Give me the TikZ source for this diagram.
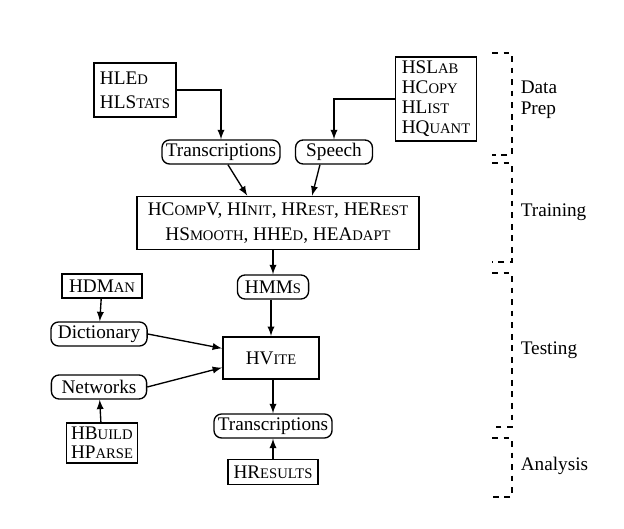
\documentclass[tikz,border=0pt]{standalone}
\usepackage{fontspec}
\setmainfont{Liberation Serif}
\usetikzlibrary{arrows}
% fake small caps, as in the HTK book
\newcommand\htk[2]{#1{\fontsize{7.6}{9}\selectfont #2}}

\begin{document}
\begin{tikzpicture}[x=0.52pt, y=-0.52pt, >=latex,
    tool/.style={rectangle, draw, line width=0.9pt, inner sep=2pt},
    file/.style={rectangle, rounded corners=4pt, draw, line width=0.7pt,
      inner xsep=2pt, inner ysep=0pt, minimum height=12.5pt},
    flow/.style={->, line width=0.7pt},
    phase/.style={dashed, line width=0.8pt},
    lines/.style={align=left, font=\fontsize{10}{#1}\selectfont}]

  \useasboundingbox (0,0) rectangle (624,529);

  % data preparation
  \node[tool,lines=12.5,minimum width=43pt,minimum height=28pt] (hled) at (135,90)
    {\htk{HLE}{D}\\\htk{HLS}{TATS}};
  \node[tool,lines=10.4,minimum width=42pt,minimum height=43pt] (hslab) at (436,99)
    {\htk{HSL}{AB}\\\htk{HC}{OPY}\\\htk{HL}{IST}\\\htk{HQ}{UANT}};
  \node[file] (trans) at (221,152) {Transcriptions};
  \node[file,minimum width=40pt] (speech) at (334,152) {Speech};
  \draw[flow] (hled.east) -| (trans.north);
  \draw[flow] (hslab.west) -| (speech.north);

  % training
  \node[tool,align=center,font=\fontsize{10}{13}\selectfont,minimum width=147pt,minimum height=27.5pt]
    (train) at (278,223)
    {\htk{HC}{OMP}V, \htk{HI}{NIT}, \htk{HR}{EST}, \htk{HER}{EST}\\
     \htk{HS}{MOOTH}, \htk{HHE}{D}, \htk{HEA}{DAPT}};
  \draw[flow] ([xshift=3.6pt]trans.south) -- ([xshift=-16pt]train.north);
  \draw[flow] ([xshift=-7.3pt]speech.south) -- ([xshift=17.7pt]train.north);

  \node[file,minimum width=37pt] (hmms) at (273,287) {\htk{HMM}{S}};
  \draw[flow] (train.south -| hmms.north) -- (hmms.north);

  % testing
  \node[tool,minimum width=50pt,minimum height=22pt] (hvite) at (271,358) {\htk{HV}{ITE}};
  \node[tool,minimum width=41.6pt,minimum height=12.5pt] (hdman) at (102,286) {\htk{HDM}{AN}};
  \node[file,minimum width=50pt] (dict) at (99,334) {Dictionary};
  \node[file,minimum width=49.5pt] (nets) at (99,387) {Networks};
  \node[tool,lines=9.6,minimum width=37pt,minimum height=21pt] (hbuild) at (102,443)
    {\htk{HB}{UILD}\\\htk{HP}{ARSE}};
  \node[file] (trans2) at (273,426) {Transcriptions};

  \draw[flow] (hmms.south -| hvite.north) -- (hvite.north);
  \draw[flow] (hdman) -- (dict);
  \draw[flow] (hbuild) -- (nets);
  \draw[flow] (dict.east) -- ([yshift=5pt]hvite.west);
  \draw[flow] (nets.east) -- ([yshift=-5pt]hvite.west);
  \draw[flow] (hvite.south -| trans2.north) -- (trans2.north);

  % analysis
  \node[tool,minimum width=47pt,minimum height=13pt] (hres) at (273,472) {\htk{HR}{ESULTS}};
  \draw[flow] (hres) -- (trans2);

  % phase brackets
  \draw[phase] (492,53) -| (512,155) -- (492,155);
  \draw[phase] (492,163) -| (512,262) -- (492,262);
  \draw[phase] (492,273) -| (512,427) -- (492,427);
  \draw[phase] (492,438) -| (512,497) -- (492,497);
  \node[anchor=west,align=left,font=\fontsize{10}{11}\selectfont] (prep) at (514,100) {Data\\Prep};
  \node[anchor=west] (training) at (514,212) {Training};
  \node[anchor=west] (testing) at (514,350) {Testing};
  \node[anchor=west] (analysis) at (514,466) {Analysis};
\end{tikzpicture}
\end{document}
